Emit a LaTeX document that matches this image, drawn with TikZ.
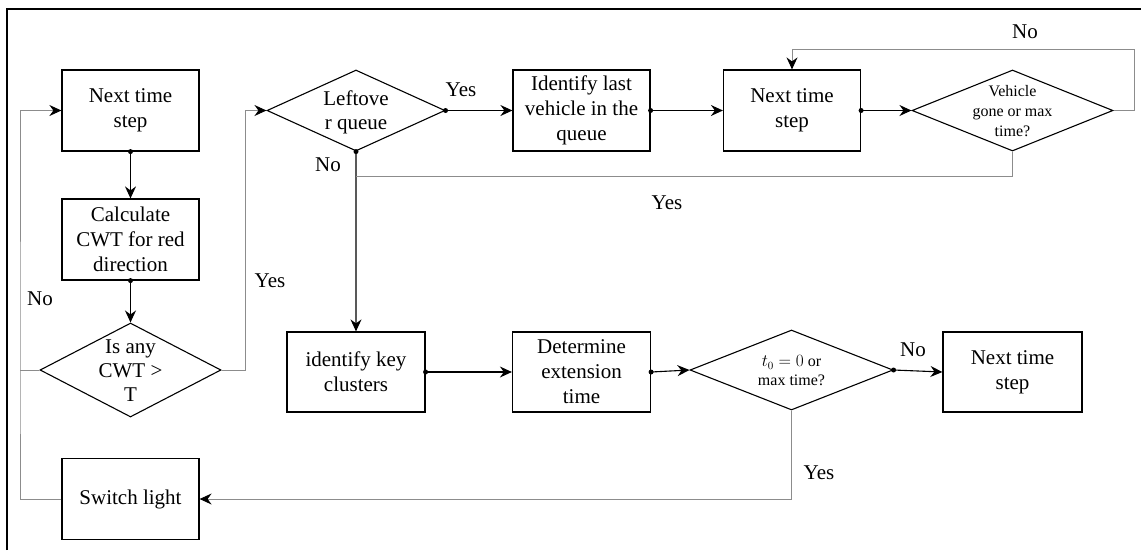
\documentclass[tikz,border=0pt]{standalone}
\usepackage{fontspec}
\setmainfont{Liberation Serif}
\usetikzlibrary{shapes.geometric,arrows.meta}

\begin{document}
\begin{tikzpicture}[x=1pt,y=-1pt,
  box/.style={draw,line width=1.2pt,minimum width=137pt,minimum height=81pt,
    inner sep=0pt,align=center,font=\fontsize{21}{25}\selectfont},
  dia/.style={draw,diamond,line width=1.1pt,inner sep=0pt},
  txt/.style={align=center,inner sep=0pt,font=\fontsize{21}{24}\selectfont},
  smalltxt/.style={align=center,inner sep=0pt,font=\fontsize{16}{20}\selectfont},
  lbl/.style={inner sep=0pt,font=\fontsize{21}{25}\selectfont},
  tip/.style={-{Stealth[length=12pt,width=11pt,inset=4pt,color=black]}},
  flow/.style={tip,draw=black,line width=1.1pt},
  loop/.style={draw=black!45,line width=1pt},
  dot/.style={fill=black}
]
\useasboundingbox (0,0) rectangle (1141,550);

% frame edges
\draw[line width=2pt] (7,550) -- (7,9) -- (1141,9);

% left column
\node[box] (n1) at (130.5,110.5) {Next time\\step};
\node[box] (calc) at (130.5,239.5) {Calculate\\CWT for red\\direction};
\node[dia,minimum width=181pt,minimum height=94pt] (d1) at (130.5,370) {};
\node[txt] (d1t) at (130.5,371) {Is any\\CWT >\\T};
\node[box] (sw) at (130.5,499) {Switch light};

% top row
\node[dia,minimum width=178pt,minimum height=81pt] (lq) at (356,110.5) {};
\node[txt] (lqt) at (356,112) {Leftove\\r queue};
\node[box] (ilv) at (581.5,110.5) {Identify last\\vehicle in the\\queue};
\node[box] (n2) at (792,110.5) {Next time\\step};
\node[dia,minimum width=201pt,minimum height=81pt] (vg) at (1012.5,110.5) {};
\node[smalltxt] (vgt) at (1012.5,111) {Vehicle\\gone or max\\time?};

% bottom row
\node[box,minimum width=138pt,minimum height=80pt] (ikc) at (356,372) {identify key\\clusters};
\node[box,minimum width=138pt,minimum height=80pt] (det) at (581.5,372) {Determine\\extension\\time};
\node[dia,minimum width=203pt,minimum height=80pt] (t0) at (791.5,370) {};
\node[smalltxt,font=\fontsize{16}{19}\selectfont] (t0t) at (791.5,371) {$t_0=0$ or\\max time?};
\node[box,minimum width=139pt,minimum height=80pt] (n3) at (1012.5,372) {Next time\\step};

% junction points of the feedback lines
\coordinate (lx) at (20,370);
\coordinate (yj) at (356,176);

% main flow
\draw[flow] (n1.south) -- (calc.north);
\draw[flow] (calc.south) -- (d1.north);
\draw[flow] (lq.east) -- (ilv.west);
\draw[flow] (ilv.east) -- (n2.west);
\draw[flow] (n2.east) -- (vg.west);
\draw[flow] (ikc.east) -- (det.west);
\draw[flow] (det.east) -- (t0.west);
\draw[flow] (t0.east) -- (n3.west);
\draw[tip,draw=black!65,line width=1.1pt] (lq.south) -- (ikc.north);

% feedback lines
\draw[loop,tip] (d1.east) -- ++(24,0) |- (lq.west);
\draw[loop,tip] (sw.west) -| (lx) |- (n1.west);
\draw[loop] (d1.west) -- (lx);
\draw[loop,tip] (vg.east) -- ++(21,0) -- ++(0,-61.5) -| (n2.north);
\draw[loop] (vg.south) |- (yj);
\draw[loop,tip] (t0.south) |- (sw.east);

% start dots
\foreach \p in {n1.south,calc.south,lq.east,lq.south,ilv.east,n2.east,ikc.east,det.east,t0.east}
  \fill[dot] (\p) circle (2.5pt);

% branch labels
\node[lbl] (l1) at (40,299) {No};
\node[lbl] (l2) at (270,281) {Yes};
\node[lbl] (l3) at (461,90) {Yes};
\node[lbl] (l4) at (328,165) {No};
\node[lbl] (l5) at (1025,32) {No};
\node[lbl] (l6) at (667,203) {Yes};
\node[lbl] (l7) at (913,350) {No};
\node[lbl] (l8) at (819,473) {Yes};
\end{tikzpicture}
\end{document}
